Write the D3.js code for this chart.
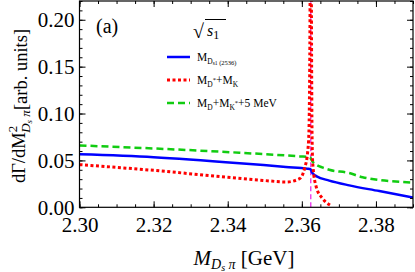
<!DOCTYPE html>
<html>
<head>
<meta charset="utf-8">
<script src="https://cdn.jsdelivr.net/npm/d3@7"></script>
<style>
  body { margin: 0; background: #fff; }
  text { font-family: "Liberation Serif", "Times New Roman", serif; }
</style>
</head>
<body>
<svg width="415" height="272"></svg>
<script>
// M_Ds1(2536) curve (blue, solid)
const ds1X = [2.300, 2.320, 2.3432, 2.3557, 2.3615, 2.3624, 2.3627, 2.3632, 2.3640, 2.3674, 2.3728, 2.3809, 2.390];
const ds1Y = [0.0565, 0.0535, 0.0471, 0.0430, 0.0412, 0.0405, 0.0375, 0.0352, 0.0330, 0.0285, 0.0234, 0.0173, 0.0103];

// M_D* + M_K curve (red, dotted)
const dStarKX = [2.300, 2.320, 2.340, 2.3495, 2.3558, 2.3594, 2.3607, 2.3616, 2.3619, 2.3622, 2.3623, 2.3624, 2.3625, 2.3626, 2.3628, 2.3630, 2.3639, 2.3656, 2.3676];
const dStarKY = [0.0455, 0.0394, 0.0320, 0.0287, 0.0270, 0.0305, 0.0410, 0.0600, 0.0790, 0.2000, 0.3500, 0.6000, 0.3500, 0.2000, 0.0650, 0.0440, 0.0216, 0.0093, 0.0025];

// M_D + M_K* + 5 MeV curve (green, dashed)
const dKStarX = [2.300, 2.3432, 2.3594, 2.3622, 2.3625, 2.3630, 2.3640, 2.3655, 2.3674, 2.3728, 2.3764, 2.390];
const dKStarY = [0.0660, 0.0582, 0.0543, 0.0535, 0.0515, 0.0482, 0.0452, 0.0425, 0.0400, 0.0365, 0.0320, 0.0263];

// threshold marker (magenta, dashed)
const thresholdX = 2.3624;

const xTicks = [2.30, 2.32, 2.34, 2.36, 2.38];
const xMinor = d3.range(0, 19).map(i => 2.30 + i * 0.005);
const yTicks = [0.00, 0.05, 0.10, 0.15, 0.20];
const yMinor = d3.range(0, 23).map(i => i * 0.01);

const svg = d3.select("svg");
const pLeft = 79.5, pRight = 413, pTop = 1, pBottom = 207.3;

const x = d3.scaleLinear().domain([2.30, 2.39]).range([pLeft, pRight]);
const y = d3.scaleLinear().domain([0, 0.22]).range([pBottom, pTop]);

svg.append("defs").append("clipPath").attr("id", "plot")
  .append("rect")
  .attr("x", pLeft).attr("y", pTop)
  .attr("width", pRight - pLeft).attr("height", pBottom - pTop);

const plot = svg.append("g").attr("clip-path", "url(#plot)");

// vertical threshold line
plot.append("line")
  .attr("x1", x(thresholdX)).attr("x2", x(thresholdX))
  .attr("y1", y(0)).attr("y2", y(0.22))
  .attr("stroke", "#ee44ee")
  .attr("stroke-width", 1.5)
  .attr("stroke-dasharray", "5,3");

let line = (xs, ys) => d3.line()
  .x(i => x(xs[i]))
  .y(i => y(ys[i]))
  .curve(d3.curveMonotoneX)(d3.range(xs.length));

const series = [
  {xs: dKStarX, ys: dKStarY, color: "#11cc11", dash: "7,4", width: 2.5},
  {xs: ds1X, ys: ds1Y, color: "#0000ff", dash: null, width: 2.5},
  {xs: dStarKX, ys: dStarKY, color: "#ff0000", dash: "3,2.5", width: 3}
];

plot.selectAll("path.curve")
  .data(series)
  .join("path")
  .attr("class", "curve")
  .attr("fill", "none")
  .attr("stroke", d => d.color)
  .attr("stroke-width", d => d.width)
  .attr("stroke-dasharray", d => d.dash)
  .attr("d", d => line(d.xs, d.ys));

// axes, ticks pointing inward
let styleAxis = g => {
  g.select(".domain").remove();
  g.selectAll("line").attr("stroke", "#000").attr("stroke-width", 1);
  g.selectAll("text").attr("font-size", 21).attr("fill", "#000");
};

svg.append("g").attr("transform", `translate(0,${pBottom})`)
  .call(d3.axisBottom(x).tickValues(xMinor).tickSize(-3).tickFormat(""))
  .call(styleAxis);
svg.append("g").attr("transform", `translate(0,${pBottom})`)
  .call(d3.axisBottom(x).tickValues(xTicks).tickSize(-6).tickPadding(10).tickFormat(d3.format(".2f")))
  .call(styleAxis);
svg.append("g").attr("transform", `translate(0,${pTop})`)
  .call(d3.axisTop(x).tickValues(xMinor).tickSize(-3).tickFormat(""))
  .call(styleAxis);
svg.append("g").attr("transform", `translate(0,${pTop})`)
  .call(d3.axisTop(x).tickValues(xTicks).tickSize(-6).tickFormat(""))
  .call(styleAxis);

svg.append("g").attr("transform", `translate(${pLeft},0)`)
  .call(d3.axisLeft(y).tickValues(yMinor).tickSize(-3).tickFormat(""))
  .call(styleAxis);
svg.append("g").attr("transform", `translate(${pLeft},0)`)
  .call(d3.axisLeft(y).tickValues(yTicks).tickSize(-6).tickPadding(5).tickFormat(d3.format(".2f")))
  .call(styleAxis);
svg.append("g").attr("transform", `translate(${pRight},0)`)
  .call(d3.axisRight(y).tickValues(yMinor).tickSize(-3).tickFormat(""))
  .call(styleAxis);
svg.append("g").attr("transform", `translate(${pRight},0)`)
  .call(d3.axisRight(y).tickValues(yTicks).tickSize(-6).tickFormat(""))
  .call(styleAxis);

// frame
svg.append("rect")
  .attr("x", pLeft).attr("y", pTop)
  .attr("width", pRight - pLeft).attr("height", pBottom - pTop)
  .attr("fill", "none").attr("stroke", "#000").attr("stroke-width", 1.2);

// panel label
svg.append("text").attr("x", 96).attr("y", 33).attr("font-size", 20).text("(a)");

// x axis title
const xt = svg.append("text").attr("x", 244).attr("y", 265)
  .attr("text-anchor", "middle").attr("font-size", 21);
xt.append("tspan").attr("font-style", "italic").text("M");
xt.append("tspan").attr("font-style", "italic").attr("font-size", 14).attr("dy", 4).text("D");
xt.append("tspan").attr("font-style", "italic").attr("font-size", 10).attr("dy", 2).text("s");
xt.append("tspan").attr("font-style", "italic").attr("font-size", 14).attr("dy", -2).text(" π");
xt.append("tspan").attr("dy", -4).text(" [GeV]");

// y axis title
const yt = svg.append("text")
  .attr("transform", "translate(25,106) rotate(-90)")
  .attr("text-anchor", "middle").attr("font-size", 18.5);
yt.append("tspan").text("dΓ/dM");
yt.append("tspan").attr("font-size", 13).attr("dy", -8).text("2");
yt.append("tspan").attr("font-style", "italic").attr("font-size", 13).attr("dx", -7).attr("dy", 13).text("D");
yt.append("tspan").attr("font-style", "italic").attr("font-size", 9).attr("dy", 2).text("s");
yt.append("tspan").attr("font-style", "italic").attr("font-size", 13).attr("dy", -2).text(" π");
yt.append("tspan").attr("dy", -3).text("[arb. units]");

// legend
const lg = svg.append("g");
lg.append("text").attr("x", 193).attr("y", 38).attr("font-size", 20).text("√");
lg.append("line").attr("x1", 205).attr("x2", 226).attr("y1", 19.5).attr("y2", 19.5)
  .attr("stroke", "#000").attr("stroke-width", 1);
const s1 = lg.append("text").attr("x", 207).attr("y", 36).attr("font-size", 16);
s1.append("tspan").attr("font-style", "italic").text("s");
s1.append("tspan").attr("font-size", 12).attr("dy", 3).text("1");

const legendRows = [
  {y: 57, color: "#0000ff", dash: null, width: 2.5, parts: [["M", 11.5, 0], ["D", 7.5, 3], ["s1", 5.5, 1.5], [" (2536)", 6.5, -0.5]]},
  {y: 80, color: "#ff0000", dash: "3,2.5", width: 3, parts: [["M", 11.5, 0], ["D", 7.5, 3], ["*", 6.5, -5], ["+M", 11.5, 2], ["K", 7.5, 3]]},
  {y: 103, color: "#11cc11", dash: "7,4", width: 2.5, parts: [["M", 11.5, 0], ["D", 7.5, 3], ["+M", 11.5, -3], ["K", 7.5, 3], ["*", 6.5, -5], ["+5 MeV", 11.5, 2]]}
];

legendRows.forEach(r => {
  lg.append("line")
    .attr("x1", 167).attr("x2", 190).attr("y1", r.y).attr("y2", r.y)
    .attr("stroke", r.color).attr("stroke-width", r.width)
    .attr("stroke-dasharray", r.dash);
  const t = lg.append("text").attr("x", 197).attr("y", r.y + 3.5).attr("font-size", 11.5);
  r.parts.forEach(([s, fs, dy]) => {
    t.append("tspan").attr("font-size", fs).attr("dy", dy).text(s);
  });
});
</script>
</body>
</html>
